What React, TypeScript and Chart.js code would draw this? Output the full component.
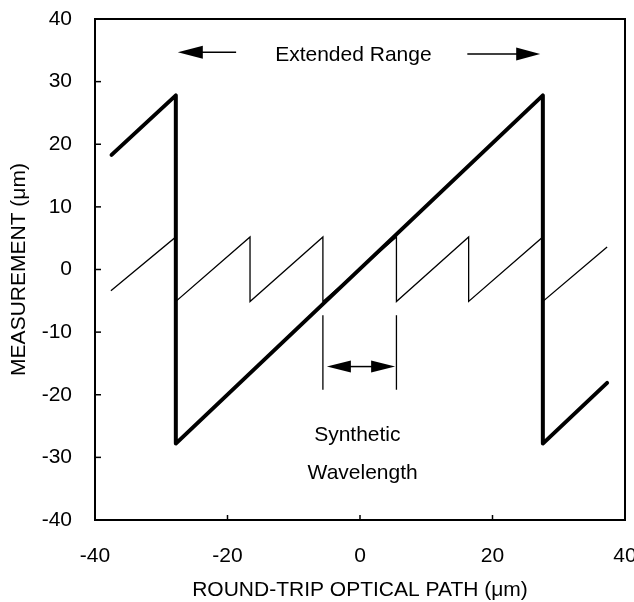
import React, { useEffect, useRef } from "react";
import { Chart, registerables } from "chart.js";

Chart.register(...registerables);

// ---- data ----
const xRange = [-40, 40];
const yRange = [-40, 40];
const xStep = 20;
const yStep = 10;

// thick sawtooth: extended range measurement
const extendedX = [-37.5, -27.8, -27.8, 27.6, 27.6, 37.3];
const extendedY = [18.3, 27.8, -27.8, 27.8, -27.8, -18.1];

// thin sawtooth: synthetic wavelength measurement
const syntheticX = [-37.6, -27.8, -27.8, -16.6, -16.6, -5.6, -5.6, 5.5, 5.5, 16.4, 16.4, 27.6, 27.6, 37.3];
const syntheticY = [-3.4, 5.2, -5.1, 5.2, -5.1, 5.2, -5.1, 5.2, -5.1, 5.2, -5.1, 5.2, -5.1, 3.6];

const xTitle = "ROUND-TRIP OPTICAL PATH (\u03bcm)";
const yTitle = "MEASUREMENT (\u03bcm)";
const rangeLabel = "Extended Range";
const waveLabel = ["Synthetic", "Wavelength"];

const FAMILY = '"Liberation Sans", Arial, Helvetica, sans-serif';
const FONT = `21px ${FAMILY}`;

function head(ctx: CanvasRenderingContext2D, tipX: number, tipY: number, dir: number, len: number, half: number) {
  ctx.beginPath();
  ctx.moveTo(tipX, tipY);
  ctx.lineTo(tipX - dir * len, tipY - half);
  ctx.lineTo(tipX - dir * len, tipY + half);
  ctx.closePath();
  ctx.fill();
}

const decorPlugin = {
  id: "decor",
  afterDraw(chart: any) {
    const { ctx, chartArea, scales } = chart;
    const xs = scales.x;
    const ys = scales.y;
    const X = (v: number) => xs.getPixelForValue(v);
    const Y = (v: number) => ys.getPixelForValue(v);
    ctx.save();
    ctx.strokeStyle = "#000";
    ctx.fillStyle = "#000";

    // frame
    ctx.lineWidth = 2;
    ctx.strokeRect(chartArea.left, chartArea.top, chartArea.right - chartArea.left, chartArea.bottom - chartArea.top);

    // inner tick marks
    ctx.lineWidth = 1.5;
    xs.ticks.forEach((t: any) => {
      if (t.value === xRange[0] || t.value === xRange[1]) return;
      const px = X(t.value);
      ctx.beginPath();
      ctx.moveTo(px, chartArea.bottom);
      ctx.lineTo(px, chartArea.bottom - 5);
      ctx.stroke();
    });
    ys.ticks.forEach((t: any) => {
      if (t.value === yRange[0] || t.value === yRange[1]) return;
      const py = Y(t.value);
      ctx.beginPath();
      ctx.moveTo(chartArea.left, py);
      ctx.lineTo(chartArea.left + 6, py);
      ctx.stroke();
    });

    // Extended Range arrows
    ctx.lineWidth = 1.5;
    ctx.beginPath();
    ctx.moveTo(X(-18.7), Y(34.7));
    ctx.lineTo(X(-27.5) + 20, Y(34.7));
    ctx.stroke();
    head(ctx, X(-27.5), Y(34.7), -1, 25, 6.5);
    ctx.beginPath();
    ctx.moveTo(X(16.2), Y(34.4));
    ctx.lineTo(X(27.2) - 20, Y(34.4));
    ctx.stroke();
    head(ctx, X(27.2), Y(34.4), 1, 24, 6.5);

    ctx.font = FONT;
    ctx.textAlign = "center";
    ctx.textBaseline = "middle";
    ctx.fillText(rangeLabel, X(-1.0), Y(34.25));

    // Synthetic wavelength markers
    ctx.lineWidth = 1.3;
    [-5.6, 5.5].forEach((v) => {
      ctx.beginPath();
      ctx.moveTo(X(v), Y(-7.3));
      ctx.lineTo(X(v), Y(-19.2));
      ctx.stroke();
    });
    ctx.lineWidth = 1.5;
    ctx.beginPath();
    ctx.moveTo(X(-5.0) + 20, Y(-15.5));
    ctx.lineTo(X(5.3) - 20, Y(-15.5));
    ctx.stroke();
    head(ctx, X(-5.0), Y(-15.5), -1, 24, 6);
    head(ctx, X(5.3), Y(-15.5), 1, 24, 6);

    ctx.fillText(waveLabel[0], X(-0.4), Y(-26.4));
    ctx.fillText(waveLabel[1], X(0.4), Y(-32.5));
    ctx.restore();
  },
};

export default function App() {
  const canvasRef = useRef<HTMLCanvasElement | null>(null);

  useEffect(() => {
    const canvas = canvasRef.current;
    if (!canvas) return;
    const chart = new Chart(canvas, {
      type: "scatter",
      data: {
        datasets: [
          {
            label: "synthetic",
            data: syntheticX.map((x, i) => ({ x, y: syntheticY[i] })),
            showLine: true,
            borderColor: "#000",
            borderWidth: 1.3,
            pointRadius: 0,
            fill: false,
          },
          {
            label: "extended",
            data: extendedX.map((x, i) => ({ x, y: extendedY[i] })),
            showLine: true,
            borderColor: "#000",
            borderWidth: 4,
            borderJoinStyle: "round",
            borderCapStyle: "round",
            pointRadius: 0,
            fill: false,
          },
        ],
      },
      options: {
        responsive: false,
        animation: false,
        devicePixelRatio: 1,
        layout: { padding: { top: 19, right: 9, left: 0, bottom: 0 } },
        plugins: { legend: { display: false }, tooltip: { enabled: false } },
        scales: {
          x: {
            type: "linear",
            min: xRange[0],
            max: xRange[1],
            ticks: { stepSize: xStep, color: "#000", font: { size: 21, family: FAMILY }, padding: 24, maxRotation: 0 },
            grid: { display: false, drawTicks: false },
            border: { display: false },
            title: {
              display: true,
              text: xTitle,
              color: "#000",
              font: { size: 21, family: FAMILY, lineHeight: 1.1 },
              padding: { top: 0, bottom: 0 },
            },
            afterFit: (s: any) => {
              s.height = 82;
              s.paddingLeft = 0;
              s.paddingRight = 0;
            },
          },
          y: {
            type: "linear",
            min: yRange[0],
            max: yRange[1],
            ticks: { stepSize: yStep, color: "#000", font: { size: 21, family: FAMILY }, padding: 23 },
            grid: { display: false, drawTicks: false },
            border: { display: false },
            title: {
              display: true,
              text: yTitle,
              color: "#000",
              font: { size: 21, family: FAMILY, lineHeight: 1.2 },
              padding: { top: 7, bottom: 0 },
            },
            afterFit: (s: any) => {
              s.width = 95;
              s.paddingTop = 0;
              s.paddingBottom = 0;
            },
          },
        },
      } as any,
      plugins: [decorPlugin],
    });
    return () => chart.destroy();
  }, []);

  return (
    <div style={{ position: "fixed", left: 0, top: 0, width: 634, height: 602, background: "#fff" }}>
      <canvas ref={canvasRef} width={634} height={602} style={{ display: "block" }} />
    </div>
  );
}
